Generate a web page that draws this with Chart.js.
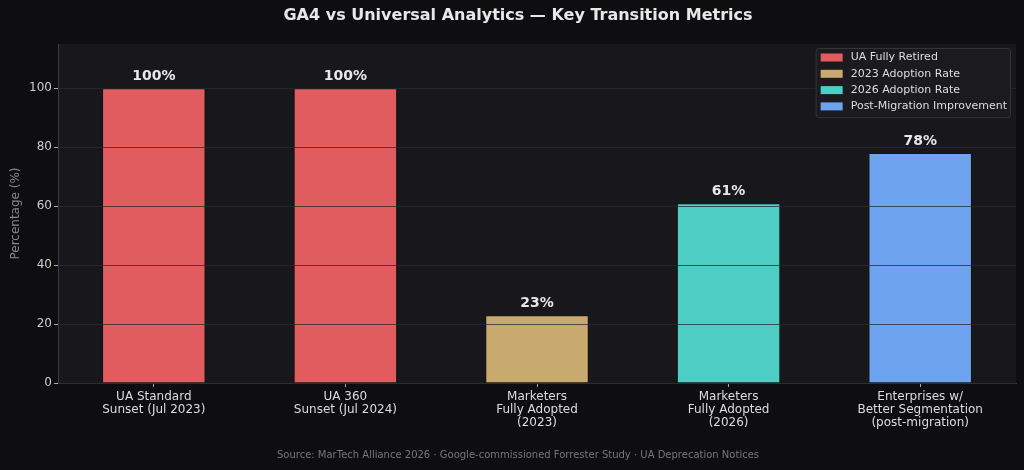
<!DOCTYPE html>
<html>
<head>
<meta charset="utf-8">
<script src="https://cdn.jsdelivr.net/npm/chart.js@4.4.1/dist/chart.umd.min.js"></script>
<style>
  html, body { margin: 0; padding: 0; background: #0e0e10; }
  canvas { display: block; }
</style>
</head>
<body>
<canvas id="c" width="1024" height="470"></canvas>
<script>
// ---- data ----
const categories = [
  ['UA Standard', 'Sunset (Jul 2023)'],
  ['UA 360', 'Sunset (Jul 2024)'],
  ['Marketers', 'Fully Adopted', '(2023)'],
  ['Marketers', 'Fully Adopted', '(2026)'],
  ['Enterprises w/', 'Better Segmentation', '(post-migration)']
];
const values = [100, 100, 23, 61, 78];
const barGroup = [0, 0, 1, 2, 3];
const legendLabels = ['UA Fully Retired', '2023 Adoption Rate', '2026 Adoption Rate', 'Post-Migration Improvement'];
const groupColors = ['#e05c5e', '#c8aa6f', '#4ecdc4', '#6ea3f0'];
const yTicks = [0, 20, 40, 60, 80, 100];
const titleText = 'GA4 vs Universal Analytics \u2014 Key Transition Metrics';
const sourceText = 'Source: MarTech Alliance 2026 \u00b7 Google-commissioned Forrester Study \u00b7 UA Deprecation Notices';
const yTitle = 'Percentage (%)';

const FONT = "'DejaVu Sans', sans-serif";

const bgPlugin = {
  id: 'bg',
  beforeDraw(chart) {
    const { ctx, chartArea: a } = chart;
    ctx.save();
    ctx.fillStyle = '#0e0e10';
    ctx.fillRect(0, 0, chart.width, chart.height);
    ctx.fillStyle = '#18181c';
    ctx.fillRect(a.left, a.top, a.right - a.left, a.bottom - a.top);
    ctx.restore();
  }
};

// horizontal grid lines drawn above the bars, at the y scale's ticks
const gridOnTop = {
  id: 'gridOnTop',
  afterDatasetsDraw(chart) {
    const { ctx, chartArea: a } = chart;
    const ys = chart.scales.y;
    ctx.save();
    ctx.strokeStyle = 'rgba(40,40,46,0.75)';
    ctx.lineWidth = 1;
    ys.ticks.forEach(t => {
      const py = Math.round(ys.getPixelForValue(t.value)) + 0.5;
      ctx.beginPath();
      ctx.moveTo(a.left, py);
      ctx.lineTo(a.right, py);
      ctx.stroke();
    });
    ctx.restore();
  }
};

const valueLabels = {
  id: 'valueLabels',
  afterDraw(chart) {
    const { ctx } = chart;
    const meta = chart.getDatasetMeta(0);
    ctx.save();
    ctx.font = "bold 14px " + FONT;
    ctx.fillStyle = '#e8e8e8';
    ctx.textAlign = 'center';
    ctx.textBaseline = 'alphabetic';
    meta.data.forEach((bar, i) => {
      ctx.fillText(values[i] + '%', bar.x, bar.y - 8);
    });
    ctx.restore();
  }
};

const boxLegend = {
  id: 'boxLegend',
  afterDraw(chart) {
    const { ctx, chartArea: a } = chart;
    ctx.save();
    ctx.font = "11px " + FONT;
    let maxW = 0;
    legendLabels.forEach(t => { maxW = Math.max(maxW, ctx.measureText(t).width); });
    const rowH = 16.3;
    const w = 35 + maxW + 3;
    const h = legendLabels.length * rowH + 4;
    const x = a.right - 6 - w;
    const y = a.top + 4;
    ctx.fillStyle = 'rgba(28,28,32,0.92)';
    ctx.strokeStyle = '#333338';
    ctx.lineWidth = 1;
    ctx.beginPath();
    if (ctx.roundRect) ctx.roundRect(x + 0.5, y + 0.5, w, h, 3); else ctx.rect(x + 0.5, y + 0.5, w, h);
    ctx.fill();
    ctx.stroke();
    ctx.textAlign = 'left';
    ctx.textBaseline = 'middle';
    legendLabels.forEach((t, i) => {
      const cy = y + 9.5 + i * rowH;
      ctx.fillStyle = groupColors[i];
      ctx.fillRect(x + 5, cy - 4, 22, 8);
      ctx.fillStyle = '#dddddd';
      ctx.fillText(t, x + 35, cy);
    });
    ctx.restore();
  }
};

new Chart(document.getElementById('c'), {
  type: 'bar',
  data: {
    labels: categories,
    datasets: [{
      label: 'Percentage',
      data: values,
      backgroundColor: barGroup.map(g => groupColors[g]),
      borderColor: 'rgba(15,15,15,0.55)',
      borderWidth: 1,
      barPercentage: 0.54,
      categoryPercentage: 1.0
    }]
  },
  options: {
    responsive: false,
    animation: false,
    devicePixelRatio: 1,
    layout: { padding: { left: 20, right: 8, top: 0, bottom: 0 } },
    plugins: {
      legend: { display: false },
      tooltip: { enabled: false },
      title: {
        display: true,
        text: titleText,
        color: '#e8e8e8',
        font: { family: FONT, size: 16, weight: 'bold', lineHeight: 1.2 },
        padding: { top: 6, bottom: 18.8 }
      },
      subtitle: {
        display: true,
        position: 'bottom',
        text: sourceText,
        color: '#777777',
        font: { family: FONT, size: 10, lineHeight: 1.2 },
        padding: { top: 0, bottom: 9 }
      }
    },
    scales: {
      x: {
        offset: true,
        grid: { offset: false, drawOnChartArea: false, drawTicks: true, tickLength: 4, tickColor: '#aaaaaa' },
        border: { display: true, color: '#3c3c40', width: 1 },
        ticks: {
          color: '#dddddd',
          padding: 3,
          maxRotation: 0,
          autoSkip: false,
          font: { family: FONT, size: 12, lineHeight: 1.1 }
        },
        afterFit(scale) { scale.height = 66; }
      },
      y: {
        min: 0,
        max: 115,
        afterBuildTicks(scale) { scale.ticks = yTicks.map(v => ({ value: v })); },
        grid: { drawOnChartArea: false, drawTicks: true, tickLength: 4, tickColor: '#aaaaaa' },
        border: { display: true, color: '#3c3c40', width: 1 },
        ticks: {
          color: '#cccccc',
          padding: 2,
          font: { family: FONT, size: 12 }
        },
        title: {
          display: true,
          text: yTitle,
          color: '#888888',
          font: { family: FONT, size: 12 },
          padding: { top: -11.2, bottom: 0 }
        },
        afterFit(scale) { scale.width = 38; }
      }
    }
  },
  plugins: [bgPlugin, gridOnTop, valueLabels, boxLegend]
});
</script>
</body>
</html>
